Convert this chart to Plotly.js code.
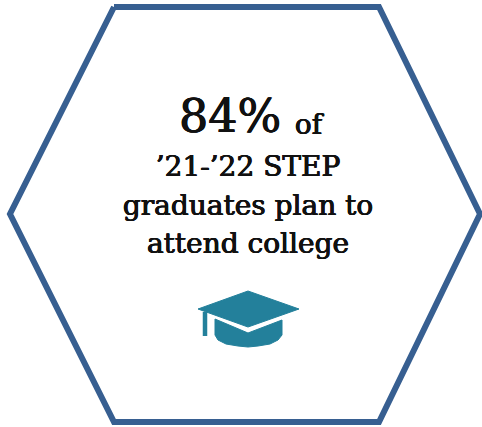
<!DOCTYPE html>
<html><head><meta charset="utf-8">
<script src="https://cdn.plot.ly/plotly-3.0.0.min.js"></script>
<style>html,body{margin:0;padding:0;background:#fff}#c{width:482px;height:427px}</style>
</head><body><div id="c"></div>
<script>
const hexX=[114,379,480,379,114,10,114];
const hexY=[7,7,214,422,422,214,7];
const capTopX=[248,299,248,198,248];
const capTopY=[291,309,327,309,291];
const capBaseX=[215,248,282,282,278,270,258,248,238,226,218,215,215];
const capBaseY=[319,333,320,335,340,344,346,347,346,344,340,335,319];
const tasselX=[205,205];
const tasselY=[312,336];
const lines=["84%"," of","’21-’22 STEP","graduates plan to","attend college"];
const lineX=[230,304,248,248,248];
const lineY=[120,127,169,208,246];
const sizes=[46,28,28,28,28];
const hexBlue="#375f91", capTeal="#23809b", serif="'DejaVu Serif'";
const traces=[
 {x:hexX,y:hexY,mode:"lines",line:{color:hexBlue,width:6,shape:"linear"},hoverinfo:"skip"},
 {x:capTopX,y:capTopY,mode:"lines",fill:"toself",fillcolor:capTeal,line:{color:capTeal,width:1},hoverinfo:"skip"},
 {x:capBaseX,y:capBaseY,mode:"lines",fill:"toself",fillcolor:capTeal,line:{color:capTeal,width:1},hoverinfo:"skip"},
 {x:tasselX,y:tasselY,mode:"lines",line:{color:capTeal,width:4.5},hoverinfo:"skip"},
 {x:lineX,y:lineY,mode:"text",text:lines,textposition:"middle center",
  textfont:{family:serif,size:sizes,color:"#111",shadow:"0.5px 0 0 #111, -0.4px 0 0 #111, 0 0.3px 0 #111"},hoverinfo:"skip"}
];
Plotly.newPlot("c",traces,{width:482,height:427,showlegend:false,margin:{l:0,r:0,t:0,b:0},
 paper_bgcolor:"#fff",plot_bgcolor:"#fff",
 xaxis:{range:[0,482],visible:false,fixedrange:true},
 yaxis:{range:[427,0],visible:false,fixedrange:true}},{displayModeBar:false,staticPlot:true});
</script></body></html>
